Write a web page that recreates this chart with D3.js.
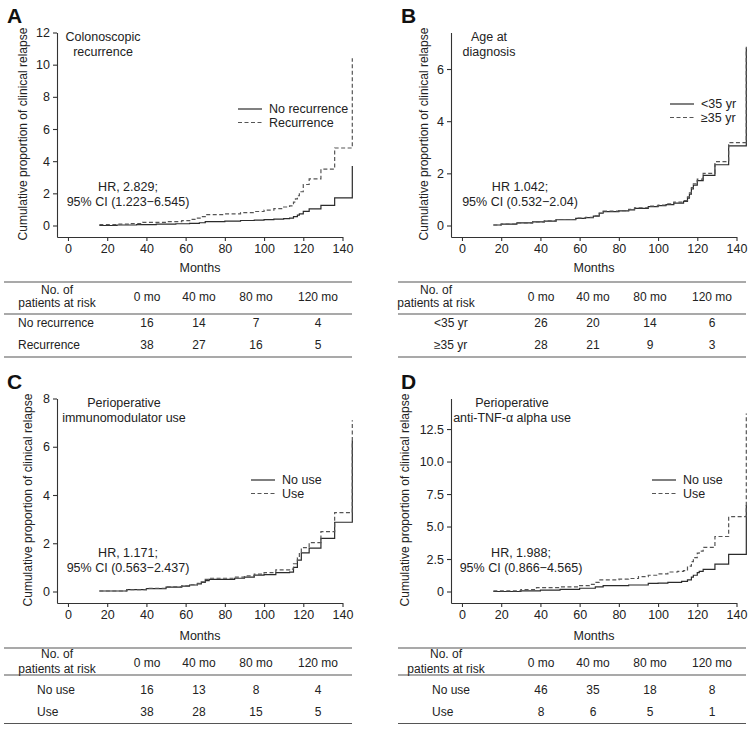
<!DOCTYPE html>
<html>
<head>
<meta charset="utf-8">
<script src="https://cdn.jsdelivr.net/npm/d3@7"></script>
<style>
  body { margin: 0; background: #fff; }
  svg { font-family: "Liberation Sans", Arial, sans-serif; }
</style>
</head>
<body>
<svg id="chart" width="754" height="730"></svg>
<script>
const monthTicks = [0, 20, 40, 60, 80, 100, 120, 140];
const riskColumns = ["0 mo", "40 mo", "80 mo", "120 mo"];

// A - colonoscopic recurrence  [month, cumulative proportion]
const aNoRecurrence = [[16,0],[25,0.03],[35,0.06],[45,0.08],[55,0.11],[62,0.13],[67,0.17],[70,0.24],[80,0.27],[88,0.31],[95,0.34],[100,0.37],[105,0.4],[110,0.43],[113,0.46],[115,0.55],[117,0.64],[118,0.72],[120,0.88],[123,1.03],[129,1.25],[136,1.72],[145,3.7]];
const aRecurrence = [[16,0.05],[25,0.08],[32,0.12],[38,0.2],[50,0.24],[58,0.3],[63,0.38],[66,0.46],[68,0.55],[70,0.68],[80,0.72],[88,0.8],[95,0.87],[100,0.96],[105,1.05],[110,1.15],[113,1.22],[115,1.45],[116,1.65],[117,1.85],[118,2.1],[120,2.55],[123,2.9],[129,3.5],[136,4.82],[145,10.4]];
const aYTicks = [0, 2, 4, 6, 8, 10, 12];
const aRiskNo = [16, 14, 7, 4];
const aRiskYes = [38, 27, 16, 5];

// B - age at diagnosis
const bUnder35 = [[16,0.02],[20,0.05],[28,0.1],[36,0.14],[42,0.17],[48,0.22],[58,0.27],[63,0.3],[67,0.36],[70,0.47],[72,0.53],[80,0.56],[85,0.6],[88,0.66],[95,0.72],[100,0.76],[104,0.8],[108,0.86],[113,0.92],[115,1.05],[116,1.2],[117,1.4],[118,1.55],[120,1.72],[123,1.92],[129,2.33],[136,3.05],[145,6.8]];
const bOver35 = [[16,0.02],[20,0.05],[28,0.1],[36,0.14],[42,0.18],[48,0.23],[58,0.28],[63,0.31],[67,0.37],[70,0.48],[72,0.55],[80,0.57],[85,0.62],[88,0.68],[95,0.74],[100,0.78],[104,0.83],[108,0.9],[113,0.95],[115,1.1],[116,1.25],[117,1.45],[118,1.6],[120,1.78],[123,2.0],[129,2.45],[136,3.18],[145,6.85]];
const bYTicks = [0, 2, 4, 6];
const bRiskUnder = [26, 20, 14, 6];
const bRiskOver = [28, 21, 9, 3];

// C - perioperative immunomodulator use
const cNoUse = [[16,0.02],[30,0.08],[40,0.12],[50,0.18],[58,0.22],[62,0.27],[66,0.32],[68,0.38],[70,0.45],[72,0.5],[85,0.55],[90,0.6],[95,0.68],[100,0.7],[106,0.78],[113,0.8],[115,1.0],[117,1.3],[119,1.6],[123,1.8],[129,2.2],[136,2.87],[145,6.25]];
const cUse = [[16,0.02],[30,0.08],[40,0.13],[50,0.19],[58,0.23],[62,0.28],[66,0.34],[68,0.4],[70,0.5],[72,0.55],[85,0.6],[90,0.65],[95,0.72],[100,0.78],[106,0.9],[113,0.93],[115,1.15],[117,1.4],[118,1.6],[119,1.82],[123,2.03],[129,2.48],[136,3.27],[145,7.1]];
const cYTicks = [0, 2, 4, 6, 8];
const cRiskNo = [16, 13, 8, 4];
const cRiskYes = [38, 28, 15, 5];

// D - perioperative anti-TNF-alpha use
const dNoUse = [[16,0],[30,0.05],[40,0.1],[50,0.17],[60,0.25],[68,0.35],[72,0.45],[85,0.5],[95,0.62],[100,0.65],[105,0.7],[112,0.78],[115,0.9],[117,1.1],[118,1.25],[120,1.45],[121,1.55],[123,1.7],[129,2.1],[136,2.85],[145,6.65]];
const dUse = [[16,0.05],[30,0.15],[38,0.3],[50,0.35],[60,0.45],[65,0.55],[68,0.7],[70,0.9],[80,0.95],[85,1.0],[90,1.15],[95,1.25],[100,1.35],[105,1.5],[110,1.55],[113,1.6],[115,1.95],[117,2.3],[118,2.6],[120,2.95],[121,3.1],[123,3.4],[129,4.23],[136,5.76],[145,13.7]];
const dYTicks = [0, 2.5, 5, 7.5, 10, 12.5];
const dRiskNo = [46, 35, 18, 8];
const dRiskYes = [8, 6, 5, 1];

const panels = [
  { letter: "A", ox: 0, oy: 0, yMax: 12, yTicks: aYTicks, fmt: d3.format("d"),
    title: ["Colonoscopic", "recurrence"], titleX: 103,
    hr: ["HR, 2.829;", "95% CI (1.223\u22126.545)"], hrX: 128,
    names: ["No recurrence", "Recurrence"], series: [aNoRecurrence, aRecurrence],
    risk: [aRiskNo, aRiskYes], legX: 238, legY: 109, yTitleX: 23,
    headX: 57, rowX: 18, tableTop: true },
  { letter: "B", ox: 394, oy: 0, yMax: 7.4, yTicks: bYTicks, fmt: d3.format("d"),
    title: ["Age at", "diagnosis"], titleX: 95,
    hr: ["HR 1.042;", "95% CI (0.532\u22122.04)"], hrX: 126,
    names: ["<35 yr", "\u226535 yr"], series: [bUnder35, bOver35],
    risk: [bRiskUnder, bRiskOver], legX: 276, legY: 104, yTitleX: 30,
    headX: 42, rowX: 40, tableTop: true },
  { letter: "C", ox: 0, oy: 366, yMax: 8, yTicks: cYTicks, fmt: d3.format("d"),
    title: ["Perioperative", "immunomodulator use"], titleX: 124,
    hr: ["HR, 1.171;", "95% CI (0.563\u22122.437)"], hrX: 128,
    names: ["No use", "Use"], series: [cNoUse, cUse],
    risk: [cRiskNo, cRiskYes], legX: 251, legY: 114, yTitleX: 28,
    headX: 57, rowX: 37, tableTop: false },
  { letter: "D", ox: 394, oy: 366, yMax: 14.85, yTicks: dYTicks, fmt: d => d === 0 ? "0" : d3.format(".1f")(d),
    title: ["Perioperative", "anti-TNF-\u03b1 alpha use"], titleX: 118,
    hr: ["HR, 1.988;", "95% CI (0.866\u22124.565)"], hrX: 127,
    names: ["No use", "Use"], series: [dNoUse, dUse],
    risk: [dRiskNo, dRiskYes], legX: 258, legY: 114, yTitleX: 11,
    headX: 52, rowX: 38, tableTop: false }
];

const svg = d3.select("#chart");
const ink = "#222";
const lineColors = ["#2b2b2b", "#555"];
const dashes = [null, "4,2.5"];

panels.forEach(p => {
  const g = svg.append("g").attr("transform", `translate(${p.ox},${p.oy})`);

  const x = d3.scaleLinear().domain([-5.6, 140]).range([57, 342.5]);
  const y = d3.scaleLinear().domain([0, p.yMax]).range([225.5, 32.5]);
  y.domain([y.invert(237), p.yMax]).range([237, 32.5]);

  g.append("text").attr("x", 7).attr("y", 23)
    .attr("font-size", 21).attr("font-weight", "bold").attr("fill", "#111")
    .text(p.letter);

  const xAxis = g.append("g").attr("transform", "translate(0,237)")
    .call(d3.axisBottom(x).tickValues(monthTicks).tickSize(4).tickSizeOuter(0).tickPadding(3));
  const yAxis = g.append("g").attr("transform", "translate(57,0)")
    .call(d3.axisLeft(y).tickValues(p.yTicks).tickFormat(p.fmt).tickSize(4).tickSizeOuter(0).tickPadding(3));
  [xAxis, yAxis].forEach(a => {
    a.selectAll("path, line").attr("stroke", "#333").attr("stroke-width", 1.1);
    a.selectAll("text").attr("font-size", 12.5).attr("fill", ink)
      .attr("font-family", "Liberation Sans, Arial, sans-serif");
  });

  g.append("text")
    .attr("transform", `translate(${p.yTitleX},134) rotate(-90)`)
    .attr("text-anchor", "middle").attr("dy", "0.35em")
    .attr("font-size", 12).attr("fill", ink)
    .text("Cumulative proportion of clinical relapse");

  p.title.forEach((t, i) => {
    g.append("text").attr("x", p.titleX).attr("y", 37 + i * 15).attr("dy", "0.35em")
      .attr("text-anchor", "middle").attr("font-size", 12.5).attr("fill", ink).text(t);
  });
  p.hr.forEach((t, i) => {
    g.append("text").attr("x", p.hrX).attr("y", 187 + i * 15).attr("dy", "0.35em")
      .attr("text-anchor", "middle").attr("font-size", 12.5).attr("fill", ink).text(t);
  });

  const line = d3.line().x(d => x(d[0])).y(d => y(d[1])).curve(d3.curveStepAfter);
  p.series.forEach((s, i) => {
    g.append("path").datum(s).attr("d", line)
      .attr("fill", "none").attr("stroke", lineColors[i]).attr("stroke-width", 1.2)
      .attr("stroke-dasharray", dashes[i]);
  });

  // legend
  p.names.forEach((n, i) => {
    const ly = p.legY + i * 13.5;
    g.append("line").attr("x1", p.legX).attr("x2", p.legX + 24).attr("y1", ly).attr("y2", ly)
      .attr("stroke", lineColors[i]).attr("stroke-width", 1.2).attr("stroke-dasharray", dashes[i]);
    g.append("text").attr("x", p.legX + 31).attr("y", ly).attr("dy", "0.35em")
      .attr("font-size", 12.5).attr("fill", ink).text(n);
  });

  // risk table
  const ty = p.tableTop
    ? { months: 268, top: 282, head1: 290, head2: 303, headCol: 297, mid: 314, row1: 323, row2: 345, bottom: 357 }
    : { months: 270, top: 282, head1: 288, head2: 303, headCol: 297, mid: 309, row1: 324, row2: 346, bottom: 357.5 };
  const colX = d3.scalePoint().domain(riskColumns).range([147, 318]);
  const colPos = [147, 199, 256, 318];

  g.append("text").attr("x", 200).attr("y", ty.months).attr("dy", "0.35em")
    .attr("text-anchor", "middle").attr("font-size", 12.5).attr("fill", ink).text("Months");
  [ty.top, ty.mid, ty.bottom].forEach(ly => {
    g.append("line").attr("x1", 4).attr("x2", 352).attr("y1", ly).attr("y2", ly)
      .attr("stroke", "#555").attr("stroke-width", 1.1);
  });
  g.append("text").attr("x", p.headX).attr("y", ty.head1).attr("dy", "0.35em")
    .attr("text-anchor", "middle").attr("font-size", 12).attr("fill", ink).text("No. of");
  g.append("text").attr("x", p.headX).attr("y", ty.head2).attr("dy", "0.35em")
    .attr("text-anchor", "middle").attr("font-size", 12).attr("fill", ink).text("patients at risk");
  riskColumns.forEach((c, i) => {
    g.append("text").attr("x", colPos[i]).attr("y", ty.headCol).attr("dy", "0.35em")
      .attr("text-anchor", "middle").attr("font-size", 12).attr("fill", ink).text(c);
  });
  p.risk.forEach((r, k) => {
    const ry = k === 0 ? ty.row1 : ty.row2;
    g.append("text").attr("x", p.rowX).attr("y", ry).attr("dy", "0.35em")
      .attr("font-size", 12).attr("fill", ink).text(p.names[k]);
    r.forEach((v, i) => {
      g.append("text").attr("x", colPos[i]).attr("y", ry).attr("dy", "0.35em")
        .attr("text-anchor", "middle").attr("font-size", 12).attr("fill", ink).text(v);
    });
  });
});
</script>
</body>
</html>
